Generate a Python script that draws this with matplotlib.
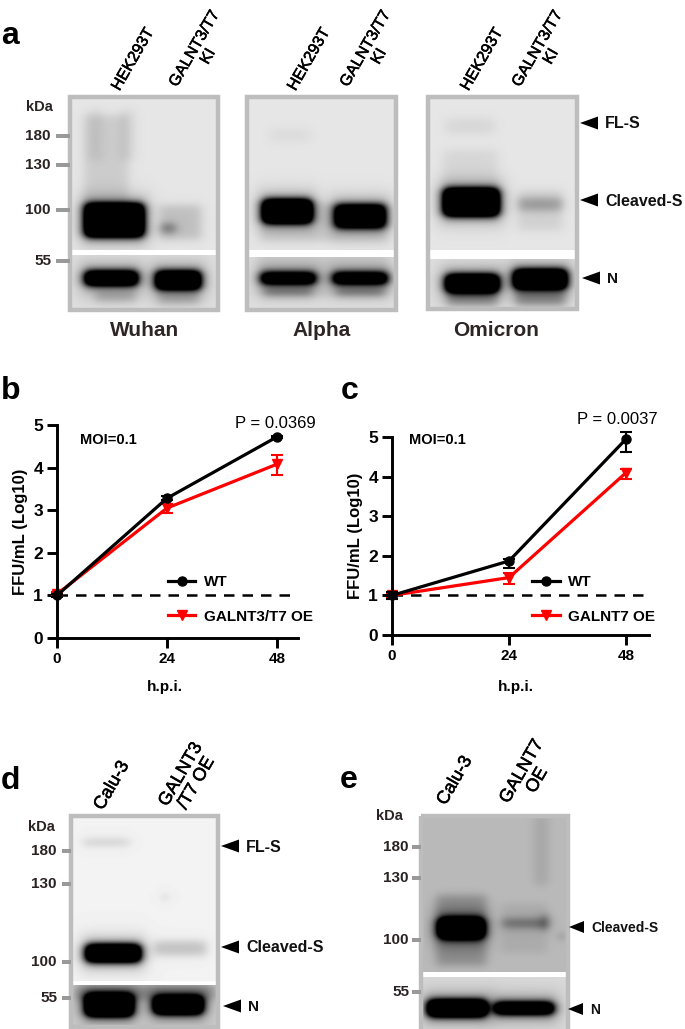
# western blots and growth curves, panels a-e

import matplotlib
matplotlib.use('Agg')
import matplotlib.pyplot as plt
import matplotlib.patheffects as pe
import numpy as np
from matplotlib.patches import Polygon, Rectangle

plt.rcParams['font.family'] = ['Liberation Sans', 'DejaVu Sans']

W, H = 685, 1029

# growth curves
hpi = [0, 24, 48]
b_wt = [1.0, 3.28, 4.72]
b_wt_low = [0.03, 0.05, 0.03]
b_wt_high = [0.03, 0.05, 0.03]
b_oe = [1.03, 3.05, 4.08]
b_oe_low = [0.05, 0.12, 0.26]
b_oe_high = [0.05, 0.10, 0.21]
c_wt = [1.0, 1.87, 4.95]
c_wt_low = [0.08, 0.19, 0.33]
c_wt_high = [0.08, 0.06, 0.18]
c_oe = [1.0, 1.45, 4.1]
c_oe_low = [0.06, 0.17, 0.15]
c_oe_high = [0.06, 0.12, 0.10]

# blot bands: centre x, centre y, width, height, strength
a1_top = [(114, 220, 58, 32, 1.9), (168, 228, 14, 8, 0.42), (180, 222, 42, 34, 0.15),
          (106, 160, 44, 90, 0.10), (95, 135, 14, 50, 0.06), (127, 135, 14, 50, 0.06)]
a1_low = [(111, 278, 52, 13, 1.8), (178, 280, 44, 17, 1.8), (115, 296, 40, 10, 0.2), (178, 298, 40, 10, 0.2)]
a2_top = [(287, 211, 48, 22, 1.9), (360, 216, 50, 22, 1.5), (323, 222, 125, 38, 0.10), (290, 135, 40, 12, 0.04)]
a2_low = [(288, 278, 54, 10, 1.6), (360, 278, 54, 10, 1.6), (288, 292, 48, 5, 0.45), (360, 292, 48, 5, 0.45),
          (323, 272, 130, 50, 0.06)]
a3_top = [(471, 202, 54, 26, 2.0), (540, 204, 44, 12, 0.24), (540, 210, 44, 40, 0.08),
          (470, 170, 54, 40, 0.06), (470, 126, 48, 14, 0.06)]
a3_low = [(472, 283, 52, 16, 1.9), (540, 279, 52, 18, 1.9), (472, 298, 50, 14, 0.28), (540, 298, 50, 14, 0.32)]
d_top = [(113, 953, 54, 16, 2.0), (180, 948, 52, 14, 0.20), (106, 842, 46, 5, 0.2), (165, 897, 3, 3, 0.6)]
d_low = [(109, 1005, 46, 20, 2.0), (178, 1005, 48, 16, 1.9), (145, 992, 140, 14, 0.25)]
e_top = [(461, 928, 44, 18, 1.8), (524, 923, 44, 8, 0.32), (545, 922, 6, 14, 0.35),
          (461, 930, 50, 70, 0.18), (524, 928, 46, 50, 0.06), (541, 850, 14, 70, 0.08), (561, 936, 3, 3, 0.9)]
e_low = [(457, 1008, 58, 15, 2.0), (524, 1008, 58, 10, 1.9)]

fig = plt.figure(figsize=(W / 100, H / 100), dpi=100, facecolor='white')
page = fig.add_axes([0, 0, 1, 1], zorder=0)
page.set_axis_off()


def soft(t, c, size, edge):
    return 0.5 * (np.tanh((t - c + size / 2) / edge) - np.tanh((t - c - size / 2) / edge))


def blot(x0, x1, y0, y1, bands, bg):
    xx, yy = np.meshgrid(np.arange(x0, x1, 0.5), np.arange(y0, y1, 0.5))
    dark = np.full(xx.shape, float(bg))
    for cx, cy, w, h, s in bands:
        dark += s * soft(xx, cx, w, 6) * soft(yy, cy, h, 5)
        # glow round the heavy bands
        if s > 1:
            dark += 0.14 * soft(xx, cx, w + 14, 8) * soft(yy, cy, h + 22, 9)
    page.imshow(1 - np.clip(dark, 0, 1), extent=(x0, x1, y1, y0), cmap='gray', vmin=0, vmax=1,
                aspect='auto', interpolation='bilinear', zorder=1)


def frame(x0, x1, y0, y1):
    page.add_patch(Rectangle((x0, y0), x1 - x0, y1 - y0, fill=False, ec='#bdbdbd', lw=3.2, zorder=3))


def ladder(labels, ys, x0, x1, tx, size=11):
    for lab, y in zip(labels, ys):
        page.add_patch(Rectangle((x0, y - 2), x1 - x0, 4, fc='#999999', ec='none', zorder=3))
        page.text(tx, y, lab, ha='right', va='center', fontsize=size, fontweight='bold', color='#2b2323')


def pointer(tip, y, label, size=11.5, length=18, half=6.5):
    page.add_patch(Polygon([(tip, y), (tip + length, y - half), (tip + length, y + half)], fc='black', ec='none', zorder=3))
    page.text(tip + length + 7, y + 1, label, ha='left', va='center', fontsize=size, fontweight='bold', color='#111111')


def lane(x, y, text, size=11.5, rot=60):
    t = page.text(x, y, text, ha='left', va='bottom', rotation=rot, rotation_mode='anchor', fontsize=size,
                  multialignment='center', linespacing=1.05, color='black')
    t.set_path_effects([pe.withStroke(linewidth=0.4, foreground='black')])


# panel a
for x0, x1, y0, y1, gap0, gap1, top, low in [(70, 218, 97, 310, 250, 255, a1_top, a1_low),
                                             (247, 396, 97, 310, 250, 257, a2_top, a2_low),
                                             (428, 577, 97, 309, 250, 259, a3_top, a3_low)]:
    blot(x0, x1, y0, gap0, top, 0.1)
    blot(x0, x1, gap1, y1, low, 0.13)
    frame(x0, x1, y0, y1)
ladder(['180', '130', '100', '55'], [136, 165, 210, 261], 56, 70, 51)
page.text(26, 107, 'kDa', ha='left', va='center', fontsize=10.5, fontweight='bold', color='#2b2323')
for x in (122, 298, 471):
    lane(x, 93, 'HEK293T')
for x in (193, 364, 536):
    lane(x, 97, 'GALNT3/T7\nKI')
pointer(580, 123, 'FL-S')
pointer(580, 200, 'Cleaved-S')
pointer(582, 278, 'N', 11)
for x, name in [(145, 'Wuhan'), (322, 'Alpha'), (496, 'Omicron')]:
    page.text(x, 331, name, ha='center', va='center', fontsize=15, fontweight='bold', color='#2e2626')

# panel d
blot(71, 218, 816, 981, d_top, 0.05)
blot(71, 218, 985, 1027, d_low, 0.2)
frame(71, 218, 816, 1027)
ladder(['180', '130', '100', '55'], [851, 884, 962, 998], 62, 71, 57)
page.text(28, 827, 'kDa', ha='left', va='center', fontsize=10.5, fontweight='bold', color='#2b2323')
lane(106, 813, 'Calu-3', 13)
lane(186, 818, 'GALNT3\n/T7 OE', 13)
pointer(221, 846, 'FL-S')
pointer(221, 947, 'Cleaved-S')
pointer(223, 1006, 'N', 11)

# panel e
blot(421, 568, 816, 972, e_top, 0.27)
blot(421, 568, 977, 1029, e_low, 0.15)
frame(421, 568, 816, 1031)
ladder(['180', '130', '100', '55'], [847, 878, 940, 992], 412, 421, 409)
page.text(376, 816, 'kDa', ha='left', va='center', fontsize=10.5, fontweight='bold', color='#2b2323')
lane(449, 808, 'Calu-3', 13)
lane(527, 815, 'GALNT7\nOE', 13)
pointer(569, 927, 'Cleaved-S', 10, 15, 6)
pointer(568, 1009, 'N', 10, 15, 6)

for x, y, lab in [(1, 36, 'a'), (1, 391, 'b'), (341, 391, 'c'), (1, 781, 'd'), (340, 780, 'e')]:
    page.text(x, y, lab, ha='left', va='center', fontsize=23, fontweight='bold', color='black')

page.set_xlim(0, W)
page.set_ylim(H, 0)


def curve(left, right, top, bottom, x_end, wt, wt_err, oe, oe_err, oe_name, p_text, p_xy, moi_xy, leg_xy, lab_xy):
    ax = fig.add_axes([left / W, 1 - bottom / H, (right - left) / W, (bottom - top) / H], zorder=2)
    ax.patch.set_alpha(0)
    ax.axhline(1, color='black', lw=1.8, dashes=(4.2, 3.2), zorder=1)
    red = ax.errorbar(hpi, oe, yerr=oe_err, color='#ff0000', lw=2.3, marker='v', ms=7, capsize=4.5,
                      capthick=1.5, elinewidth=1.5, clip_on=False, zorder=2)
    blk = ax.errorbar(hpi, wt, yerr=wt_err, color='black', lw=2.3, marker='o', ms=6.5, capsize=4.5,
                      capthick=1.5, elinewidth=1.5, clip_on=False, zorder=3)
    for art in list(red[1]) + list(red[2]) + list(blk[1]) + list(blk[2]):
        art.set_clip_on(False)
    ax.set_xlim(0, x_end)
    ax.set_ylim(0, 5)
    ax.set_xticks(hpi)
    ax.set_yticks(range(6))
    ax.spines[['top', 'right']].set_visible(False)
    ax.spines[['left', 'bottom']].set_linewidth(2.1)
    ax.tick_params(width=2.1, length=7, pad=3)
    ax.tick_params(axis='x', labelsize=11)
    ax.tick_params(axis='y', labelsize=12.5)
    for t in ax.get_xticklabels() + ax.get_yticklabels():
        t.set_fontweight('bold')
    ax.set_xlabel('h.p.i.', fontsize=11, fontweight='bold')
    ax.xaxis.set_label_coords(lab_xy[0], lab_xy[1] / (bottom - top), transform=ax.transAxes)
    ax.set_ylabel('FFU/mL (Log10)', fontsize=12, fontweight='bold', labelpad=4)
    ax.legend([blk[0], red[0]], ['WT', oe_name], loc='center left', bbox_to_anchor=leg_xy, frameon=False,
              prop={'size': 11, 'weight': 'bold'}, handlelength=1.8, handletextpad=0.55, labelspacing=1.35,
              borderpad=0, borderaxespad=0)
    ax.text(p_xy[0], p_xy[1], p_text, transform=fig.transFigure, ha='center', va='center', fontsize=12)
    ax.text(moi_xy[0], moi_xy[1], 'MOI=0.1', transform=fig.transFigure, ha='left', va='center', fontsize=10.5,
            fontweight='bold')
    return ax


curve(57, 298, 425, 638, 52.6, b_wt, [b_wt_low, b_wt_high], b_oe, [b_oe_low, b_oe_high], 'GALNT3/T7 OE',
      'P = 0.0369', (275 / W, 1 - 423 / H), (80 / W, 1 - 440 / H), (0.46, 0.182), (0.448, -42))
curve(392, 649, 437, 635, 52.7, c_wt, [c_wt_low, c_wt_high], c_oe, [c_oe_low, c_oe_high], 'GALNT7 OE',
      'P = 0.0037', (617 / W, 1 - 419 / H), (409 / W, 1 - 440 / H), (0.545, 0.18), (0.483, -45))

fig.savefig('out.png', dpi=100)
